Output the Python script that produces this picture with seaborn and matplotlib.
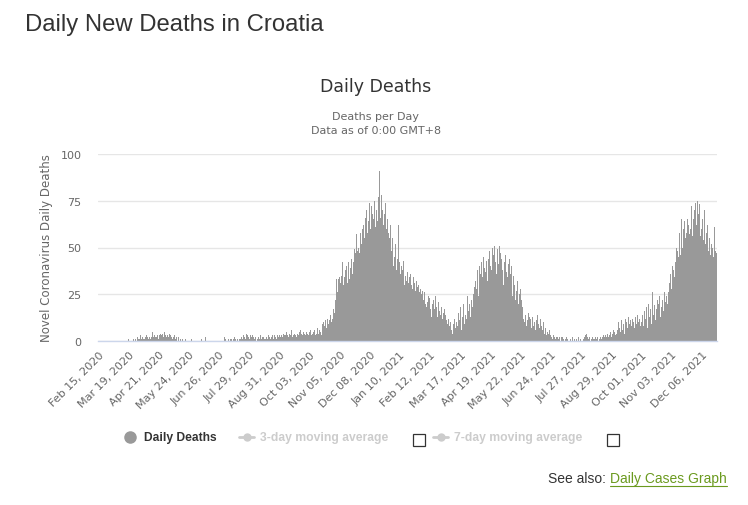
import numpy as np
import pandas as pd
import matplotlib
matplotlib.use("Agg")
import matplotlib.pyplot as plt
import seaborn as sns
from matplotlib.lines import Line2D
from matplotlib.patches import Rectangle

# daily deaths in Croatia, one list per month (starts Feb 15, 2020)
feb_2020 = [0, 0, 0, 0, 0, 0, 0, 0, 0, 0, 0, 0, 0, 0, 0]
mar_2020 = [0, 0, 0, 0, 0, 0, 0, 0, 0, 0, 0, 0, 0, 0, 0, 0, 0, 0,
            1, 0, 0, 0, 0, 1, 0, 2, 1, 0, 2, 1, 1]
apr_2020 = [3, 1, 2, 1, 1, 2, 2, 3, 2, 1, 2, 1, 2, 5, 2, 3, 2, 2, 7, 3,
            1, 3, 4, 3, 4, 2, 5, 3, 2, 4]
may_2020 = [3, 2, 4, 3, 2, 1, 2, 3, 1, 2, 0, 1, 2, 0, 1, 0, 1, 0, 0, 1,
            0, 0, 0, 1, 0, 0, 1, 0, 0, 0, 0]
jun_2020 = [0, 0, 0, 0, 0, 0, 1, 0, 0, 0, 2, 0, 0, 0, 0, 0, 0, 0, 0, 0,
            0, 0, 0, 0, 0, 0, 0, 0, 0, 0]
jul_2020 = [0, 2, 1, 0, 0, 1, 0, 1, 0, 1, 0, 1, 2, 1, 0, 1, 0, 1, 1, 2,
            2, 1, 3, 2, 1, 4, 3, 2, 1, 3, 2]
aug_2020 = [3, 1, 2, 1, 2, 0, 1, 2, 1, 3, 1, 2, 1, 2, 1, 1, 2, 1, 3, 2,
            1, 2, 3, 1, 2, 3, 2, 1, 3, 2, 3]
sep_2020 = [2, 3, 2, 4, 3, 2, 3, 5, 3, 2, 4, 3, 6, 2, 3, 4, 5, 3, 2, 4,
            3, 5, 6, 4, 3, 5, 4, 3, 6, 5]
oct_2020 = [4, 3, 5, 6, 3, 4, 5, 6, 3, 4, 5, 7, 4, 6, 5, 3, 9, 10, 8, 11,
            7, 10, 12, 9, 11, 14, 10, 12, 17, 15, 22]
nov_2020 = [33, 26, 28, 33, 34, 31, 35, 42, 30, 34, 38, 40, 31, 42, 37, 33, 39, 44, 36, 42,
            49, 47, 57, 48, 50, 55, 47, 58, 52, 60]
dec_2020 = [62, 55, 66, 70, 58, 64, 74, 52, 60, 72, 68, 65, 75, 61, 70, 64, 77, 91, 66, 72,
            78, 70, 62, 68, 74, 60, 65, 58, 55, 62, 50]
jan_2021 = [48, 55, 40, 45, 52, 38, 44, 62, 42, 36, 40, 34, 38, 43, 30, 35, 32, 37, 31, 34,
            36, 30, 28, 33, 34, 31, 27, 32, 29, 30, 26]
feb_2021 = [28, 25, 27, 22, 24, 26, 20, 18, 21, 24, 23, 17, 13, 20, 22, 19, 17, 24, 18, 13,
            21, 16, 14, 18, 12, 15, 17, 13]
mar_2021 = [14, 11, 9, 12, 8, 10, 6, 4, 9, 12, 7, 14, 10, 8, 15, 11, 18, 6, 13, 20,
            9, 14, 17, 12, 24, 16, 20, 13, 22, 18, 25]
apr_2021 = [29, 32, 28, 35, 38, 24, 40, 36, 42, 34, 45, 39, 37, 43, 32, 45, 44, 48, 40, 38,
            50, 46, 51, 42, 36, 49, 48, 41, 51, 47]
may_2021 = [44, 38, 30, 42, 46, 37, 34, 41, 28, 44, 36, 40, 24, 35, 30, 22, 27, 32, 20, 25,
            26, 28, 22, 18, 12, 10, 14, 8, 11, 15, 13]
jun_2021 = [9, 12, 7, 13, 8, 10, 6, 11, 14, 9, 7, 12, 5, 8, 6, 10, 4, 7, 3, 5,
            4, 6, 3, 2, 4, 1, 3, 2, 1, 2]
jul_2021 = [2, 1, 2, 0, 2, 1, 2, 1, 0, 1, 2, 1, 0, 0, 1, 0, 2, 1, 0, 1,
            0, 1, 0, 2, 0, 1, 0, 0, 1, 3, 2]
aug_2021 = [3, 4, 2, 1, 2, 0, 1, 2, 1, 0, 1, 2, 1, 2, 0, 1, 2, 1, 2, 3,
            2, 1, 3, 2, 4, 2, 3, 5, 2, 4, 6]
sep_2021 = [5, 3, 8, 4, 6, 10, 7, 5, 11, 6, 9, 4, 12, 8, 10, 7, 13, 9, 11, 8,
            12, 10, 7, 13, 9, 11, 14, 10, 12, 8]
oct_2021 = [10, 14, 8, 16, 12, 18, 7, 15, 20, 13, 17, 9, 26, 14, 19, 11, 17, 22, 15, 20,
            24, 13, 18, 22, 16, 26, 21, 24, 20, 26, 27]
nov_2021 = [31, 36, 28, 40, 38, 34, 42, 50, 48, 45, 58, 52, 46, 65, 50, 60, 64, 55, 58, 65,
            62, 57, 68, 60, 72, 56, 65, 70, 74, 62]
dec_2021 = [75, 68, 73, 56, 70, 60, 65, 54, 70, 52, 58, 62, 48, 55, 46, 52, 58, 50, 45, 61,
            48, 47]

tick_labels = ["Feb 15, 2020", "Mar 19, 2020", "Apr 21, 2020", "May 24, 2020",
               "Jun 26, 2020", "Jul 29, 2020", "Aug 31, 2020", "Oct 03, 2020",
               "Nov 05, 2020", "Dec 08, 2020", "Jan 10, 2021", "Feb 12, 2021",
               "Mar 17, 2021", "Apr 19, 2021", "May 22, 2021", "Jun 24, 2021",
               "Jul 27, 2021", "Aug 29, 2021", "Oct 01, 2021", "Nov 03, 2021",
               "Dec 06, 2021"]
tick_step = 33
y_ticks = [0, 25, 50, 75, 100]

deaths = (feb_2020 + mar_2020 + apr_2020 + may_2020 + jun_2020 + jul_2020 + aug_2020
          + sep_2020 + oct_2020 + nov_2020 + dec_2020 + jan_2021 + feb_2021 + mar_2021
          + apr_2021 + may_2021 + jun_2021 + jul_2021 + aug_2021 + sep_2021 + oct_2021
          + nov_2021 + dec_2021)
df = pd.DataFrame({"day": np.arange(len(deaths)), "deaths": deaths})

W, H = 748, 506
fig = plt.figure(figsize=(W / 100, H / 100), dpi=100)
sns.set_style("white")


def fx(px):
    return px / W


def fy(py):
    return 1 - py / H


# plot area in pixels: x 98-717, y 155-342
ax = fig.add_axes([fx(98), fy(342), fx(717) - fx(98), fy(155) - fy(342)])
sns.barplot(data=df, x="day", y="deaths", color="#999999", saturation=1,
            width=1.0, linewidth=0, errorbar=None, antialiased=False, ax=ax)

ax.set_xlim(-0.5, len(deaths) - 0.5)
ax.set_ylim(0, 100)
ax.set_yticks(y_ticks)
ax.set_yticklabels([str(v) for v in y_ticks])
ax.set_xticks(np.arange(0, len(tick_labels) * tick_step, tick_step))
ax.set_xticklabels(tick_labels, rotation=45, ha="right", rotation_mode="anchor")
ax.tick_params(axis="x", length=0, pad=6, labelsize=8, labelcolor="#666666")
ax.tick_params(axis="y", length=0, pad=12, labelsize=8, labelcolor="#666666")
ax.set_xlabel("")
ax.set_ylabel("")
ax.yaxis.grid(True, color="#e6e6e6", linewidth=1)
ax.set_axisbelow(True)
for s in ["top", "right", "left"]:
    ax.spines[s].set_visible(False)
ax.spines["bottom"].set_color("#ccd6eb")
ax.spines["bottom"].set_linewidth(1)

fig.text(fx(47), fy(248), "Novel Coronavirus Daily Deaths", rotation=90,
         ha="center", va="center", fontsize=8.5, color="#666666")

# titles
fig.text(fx(25), fy(25), "Daily New Deaths in Croatia", ha="left", va="center",
         fontsize=17.2, color="#333333", family="Liberation Sans")
fig.text(fx(376), fy(87), "Daily Deaths", ha="center", va="center",
         fontsize=12.5, color="#333333")
fig.text(fx(376), fy(117), "Deaths per Day", ha="center", va="center",
         fontsize=8, color="#666666")
fig.text(fx(376), fy(131), "Data as of 0:00 GMT+8", ha="center", va="center",
         fontsize=8, color="#666666")

# legend
legend_font = dict(fontsize=8.7, weight="bold", family="Liberation Sans")
fig.add_artist(Line2D([fx(130)], [fy(438)], marker="o", markersize=8,
                      color="#999999", linestyle="none"))
fig.text(fx(144), fy(438), "Daily Deaths", ha="left", va="center",
         color="#333333", **legend_font)
for x0, txt, box_x in [(239, "3-day moving average", 413), (433, "7-day moving average", 607)]:
    fig.add_artist(Line2D([fx(x0), fx(x0 + 15)], [fy(438), fy(438)], color="#cccccc",
                          linewidth=2, marker=None))
    fig.add_artist(Line2D([fx(x0 + 7.5)], [fy(438)], marker="o", markersize=5,
                          color="#cccccc", linestyle="none"))
    fig.text(fx(x0 + 21), fy(438), txt, ha="left", va="center",
             color="#cccccc", **legend_font)
    fig.add_artist(Rectangle((fx(box_x), fy(447)), fx(12), fy(0) - fy(12),
                             fill=False, edgecolor="#333333", linewidth=0.9))

fig.text(fx(548), fy(479), "See also: ", ha="left", va="center",
         fontsize=10, color="#333333", family="Liberation Sans")
fig.text(fx(610), fy(479), "Daily Cases Graph", ha="left", va="center",
         fontsize=10, color="#6b9a1f", family="Liberation Sans")
fig.add_artist(Line2D([fx(610), fx(727)], [fy(487), fy(487)], color="#6b9a1f",
                      linewidth=0.8))

fig.savefig("out.png", dpi=100)
